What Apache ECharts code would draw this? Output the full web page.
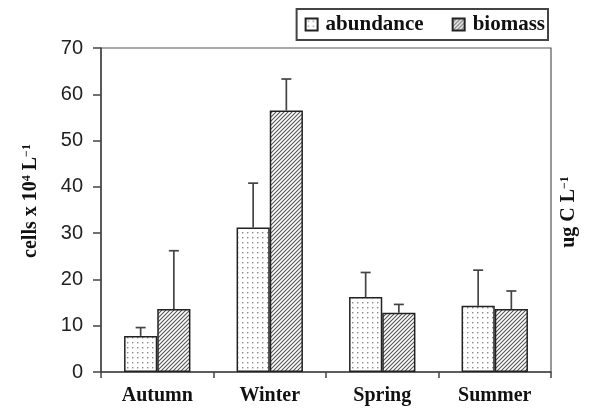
<!DOCTYPE html>
<html><head><meta charset="utf-8">
<script src="https://cdn.jsdelivr.net/npm/echarts@6/dist/echarts.min.js"></script>
<style>html,body{margin:0;padding:0;background:#fff}#c{width:590px;height:414px}</style>
</head><body><div id="c"></div>
<script>
var categories = ['Autumn', 'Winter', 'Spring', 'Summer'];
var abundance = [7.8, 31.2, 16.2, 14.3];
var abundanceErrTop = [9.6, 40.8, 21.5, 22.0];
var biomass = [13.6, 56.5, 12.8, 13.6];
var biomassErrTop = [26.2, 63.3, 14.6, 17.5];
var yTicks = [0, 10, 20, 30, 40, 50, 60, 70];
var leftTitle = 'cells x 10{sup|4} L{sup|\u22121}';
var rightTitle = 'ug C L{sup|\u22121}';

function dotPattern() {
  var c = document.createElement('canvas'); c.width = 5; c.height = 5;
  var g = c.getContext('2d');
  g.fillStyle = '#fff'; g.fillRect(0, 0, 5, 5);
  g.fillStyle = '#8a8a8a'; g.fillRect(2, 2, 1.4, 1.4);
  return c;
}
function hatchPattern() {
  var s = 4;
  var c = document.createElement('canvas'); c.width = s; c.height = s;
  var g = c.getContext('2d');
  g.fillStyle = '#fff'; g.fillRect(0, 0, s, s);
  g.strokeStyle = '#555'; g.lineWidth = 1.1;
  g.beginPath();
  g.moveTo(-1, s + 1); g.lineTo(s + 1, -1);
  g.moveTo(-1, 1); g.lineTo(1, -1);
  g.moveTo(s - 1, s + 1); g.lineTo(s + 1, s - 1);
  g.stroke();
  return c;
}

var serif = "'Liberation Serif','DejaVu Serif',serif";
var sans = "'Liberation Sans','DejaVu Sans',sans-serif";
var BARW = 0.295;
var supRich = { sup: { fontFamily: serif, fontWeight: 'bold', fontSize: 12, fill: '#111', verticalAlign: 'top', padding: [0, 0, 9, 0] } };

function errSeries(name, vals, tops, sign) {
  return {
    type: 'custom', name: name + '_err', silent: true, z: 5,
    data: vals.map(function (v, i) { return [i, v, tops[i]]; }),
    encode: { x: 0, y: [1, 2] },
    renderItem: function (params, api) {
      var i = api.value(0);
      var band = api.size([1, 0])[0];
      var dx = sign * band * BARW / 2;
      var p0 = api.coord([i, api.value(1)]);
      var p1 = api.coord([i, api.value(2)]);
      var x = p0[0] + dx;
      var st = { stroke: '#444', lineWidth: 1.7 };
      return { type: 'group', children: [
        { type: 'line', shape: { x1: x, y1: p0[1], x2: x, y2: p1[1] }, style: st },
        { type: 'line', shape: { x1: x - 5, y1: p1[1], x2: x + 5, y2: p1[1] }, style: st }
      ]};
    }
  };
}

var chart = echarts.init(document.getElementById('c'));
chart.setOption({
  animation: false,
  backgroundColor: '#fff',
  grid: { left: 101, right: 39, top: 48, bottom: 42, show: true, borderColor: '#555', borderWidth: 1.2 },
  legend: {
    data: ['abundance', 'biomass'], right: 42, top: 9,
    itemWidth: 12, itemHeight: 12, itemGap: 28,
    padding: [5, 3, 5, 8],
    borderColor: '#444', borderWidth: 2,
    icon: 'rect',
    textStyle: { fontFamily: serif, fontWeight: 'bold', fontSize: 21, color: '#111', padding: [0, 0, 0, 3] }
  },
  graphic: [
    { type: 'text', x: 31, y: 201, rotation: Math.PI / 2, silent: true,
      style: { text: leftTitle, rich: supRich, fontFamily: serif, fontWeight: 'bold', fontSize: 20, fill: '#111', align: 'center', verticalAlign: 'middle' } },
    { type: 'text', x: 569, y: 212, rotation: Math.PI / 2, silent: true,
      style: { text: rightTitle, rich: supRich, fontFamily: serif, fontWeight: 'bold', fontSize: 20, fill: '#111', align: 'center', verticalAlign: 'middle' } }
  ],
  xAxis: {
    type: 'category', data: categories,
    axisLine: { lineStyle: { color: '#444', width: 1.5 } },
    axisTick: { show: true, length: 6, lineStyle: { color: '#444', width: 1.5 } },
    axisLabel: { margin: 14, fontFamily: serif, fontWeight: 'bold', fontSize: 20, color: '#111' }
  },
  yAxis: {
    type: 'value', min: 0, max: 70, interval: 10,
    splitLine: { show: false },
    axisLine: { show: true, lineStyle: { color: '#444', width: 1.5 } },
    axisTick: { show: true, length: 8, lineStyle: { color: '#444', width: 1.5 } },
    axisLabel: { margin: 18, fontFamily: sans, fontSize: 20, color: '#222',
      formatter: function (v) { return yTicks.indexOf(v) >= 0 ? String(v) : ''; } }
  },
  series: [
    { name: 'abundance', type: 'bar', data: abundance, barWidth: (BARW * 100) + '%', barGap: '0%',
      itemStyle: { color: { image: dotPattern(), repeat: 'repeat' }, borderColor: '#222', borderWidth: 1.5 } },
    { name: 'biomass', type: 'bar', data: biomass, barWidth: (BARW * 100) + '%', barGap: '0%',
      itemStyle: { color: { image: hatchPattern(), repeat: 'repeat' }, borderColor: '#222', borderWidth: 1.5 } },
    errSeries('abundance', abundance, abundanceErrTop, -1),
    errSeries('biomass', biomass, biomassErrTop, 1)
  ]
});
</script></body></html>
